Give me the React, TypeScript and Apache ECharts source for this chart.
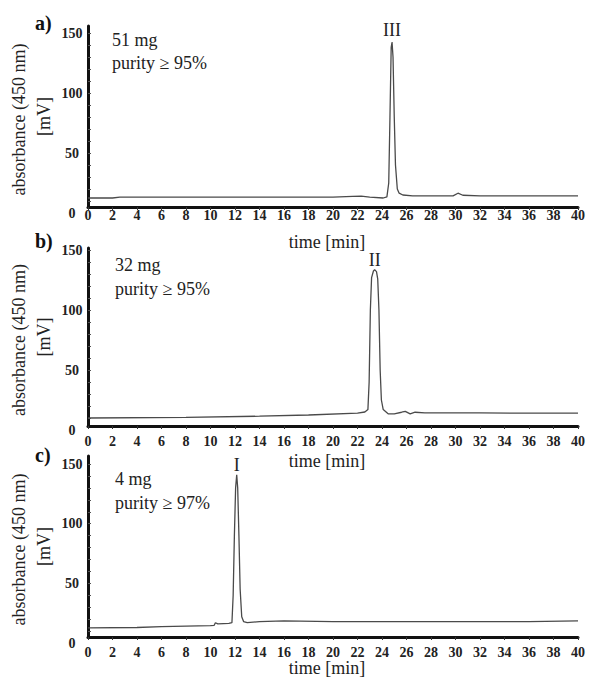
import React, { useEffect, useRef } from "react";
import * as echarts from "echarts";

// ---- data (time in min, absorbance in mV) ----
const timeA = [0, 2, 2.6, 10, 20, 21.6, 22.3, 23, 24.1, 24.4, 24.55, 24.65, 24.75, 24.82, 24.9, 25.0, 25.1, 25.25, 25.4, 25.7, 26.5, 29.8, 30.2, 30.6, 32, 40];
const absA = [12.5, 12.5, 13.3, 13.3, 13.3, 13.8, 14.0, 13.3, 12.5, 13.5, 25, 80, 138, 142.5, 130, 80, 40, 20, 16.5, 15, 14.3, 14.3, 16.5, 14.8, 14.2, 14.2];

const timeB = [0, 8, 14, 18, 22, 22.6, 22.85, 22.95, 23.05, 23.15, 23.3, 23.4, 23.55, 23.65, 23.75, 23.85, 23.95, 24.1, 24.5, 25.0, 25.6, 25.9, 26.3, 26.7, 27.5, 32, 40];
const absB = [10, 10.5, 11.5, 12.5, 14, 15, 17, 40, 100, 127, 132.5, 133.5, 132, 126, 100, 50, 25, 17, 13.5, 13.5, 14.8, 15.5, 13.5, 14.8, 14.2, 14.2, 14];

const timeC = [0, 4, 6, 10, 10.3, 10.4, 10.6, 11.5, 11.75, 11.85, 11.95, 12.05, 12.14, 12.22, 12.32, 12.42, 12.55, 12.7, 13, 14, 16, 20, 36, 40];
const absC = [12.6, 13, 13.7, 14.5, 14.8, 17, 16, 16.5, 17, 40, 90, 130, 141, 130, 90, 45, 22, 18, 17, 17.9, 18.5, 18, 17.9, 18.5];

const panelTimes = [timeA, timeB, timeC];
const panelValues = [absA, absB, absC];
const panelLetters = ["a)", "b)", "c)"];
const amounts = ["51 mg", "32 mg", "4 mg"];
const purities = ["purity \u2265 95%", "purity \u2265 95%", "purity \u2265 97%"];
const peakNames = ["III", "II", "I"];
const yLabelValues = [0, 50, 100, 150];
const yTickValues = [10, 20, 30, 40, 50, 60, 70, 80, 90, 100, 110, 120, 130, 140, 150];

// ---- layout (pixels) ----
const layout = [
  { y0: 213, top: 26, axisY: 207, scale: 1.2, xLabelMargin: 1, letterY: 23, amountY: 40, purityY: 63, textX: 112, timeY: 242, peakDist: 3 },
  { y0: 430, top: 248, axisY: 426, scale: 1.2, xLabelMargin: 8, letterY: 241, amountY: 265, purityY: 289, textX: 115, timeY: 461, peakDist: 0 },
  { y0: 643, top: 456, axisY: 637, scale: 1.193, xLabelMargin: 8, letterY: 455, amountY: 479, purityY: 503, textX: 115, timeY: 668, peakDist: 0 },
];

const FONT = '"Liberation Serif", "Times New Roman", serif';
const TXT = "#222";

export default function App() {
  const ref = useRef<HTMLDivElement>(null);
  useEffect(() => {
    if (!ref.current) return;
    const chart = echarts.init(ref.current, null, { renderer: "svg" });
    const grids: any[] = [];
    const xAxes: any[] = [];
    const yAxes: any[] = [];
    const series: any[] = [];
    const graphics: any[] = [];

    // data grids 0..2
    layout.forEach((L, i) => {
      grids.push({ left: 88, width: 490, top: L.top, height: L.y0 - L.top, containLabel: false, outerBoundsMode: "none" });
      xAxes.push({ gridIndex: i, type: "value", min: 0, max: 40, show: false });
      yAxes.push({
        gridIndex: i,
        type: "value",
        min: 0,
        max: (L.y0 - L.top) / L.scale,
        interval: 50,
        axisLine: { show: false },
        axisTick: { show: true, inside: true, length: 3, customValues: yTickValues, lineStyle: { color: "#555", width: 1 } },
        axisLabel: { customValues: yLabelValues, align: "center", margin: 16, fontFamily: FONT, fontSize: 14, fontWeight: "bold", color: TXT },
        splitLine: { show: false },
      });
    });
    // frame grids 3..5
    layout.forEach((L, i) => {
      grids.push({ left: 88, width: 490, top: L.top, height: L.axisY - L.top, containLabel: false, outerBoundsMode: "none" });
      xAxes.push({
        gridIndex: 3 + i,
        type: "value",
        min: 0,
        max: 40,
        interval: 2,
        axisLine: { show: true, lineStyle: { color: "#111", width: 3 } },
        axisTick: { show: true, length: 3, lineStyle: { color: "#333", width: 1 } },
        axisLabel: { margin: L.xLabelMargin, fontFamily: FONT, fontSize: 14, fontWeight: "bold", color: TXT },
        splitLine: { show: false },
      });
      yAxes.push({
        gridIndex: 3 + i,
        type: "value",
        min: 0,
        max: 1,
        axisLine: { show: true, lineStyle: { color: "#111", width: 3 } },
        axisTick: { show: false },
        axisLabel: { show: false },
        splitLine: { show: false },
      });
    });

    panelTimes.forEach((times, i) => {
      const vals = panelValues[i];
      const data = times.map((t, k) => [t, vals[k]]);
      const pk = vals.indexOf(Math.max(...vals));
      series.push({
        type: "line",
        xAxisIndex: i,
        yAxisIndex: i,
        data,
        symbol: "none",
        showSymbol: false,
        lineStyle: { color: "#4a4a4a", width: 1.3 },
        silent: true,
        markPoint: {
          symbol: "circle",
          symbolSize: 1,
          itemStyle: { color: "rgba(0,0,0,0)" },
          silent: true,
          label: {
            show: true,
            position: "top",
            distance: layout[i].peakDist,
            formatter: peakNames[i],
            fontFamily: FONT,
            fontSize: 18,
            color: TXT,
          },
          data: [{ coord: [times[pk], vals[pk]] }],
        },
      });

      const L = layout[i];
      const cy = (L.top + L.axisY) / 2;
      graphics.push(
        { type: "text", x: 35, y: L.letterY, style: { text: panelLetters[i], fontFamily: FONT, fontSize: 20, fontWeight: "bold", fill: "#111", align: "left", verticalAlign: "middle" } },
        { type: "text", x: L.textX, y: L.amountY, style: { text: amounts[i], fontFamily: FONT, fontSize: 18, fill: TXT, align: "left", verticalAlign: "middle" } },
        { type: "text", x: L.textX, y: L.purityY, style: { text: purities[i], fontFamily: FONT, fontSize: 18, fill: TXT, align: "left", verticalAlign: "middle" } },
        { type: "text", x: 19, y: cy + 3, rotation: Math.PI / 2, style: { text: "absorbance (450 nm)", fontFamily: FONT, fontSize: 18, fill: TXT, align: "center", verticalAlign: "middle" } },
        { type: "text", x: 44, y: cy, rotation: Math.PI / 2, style: { text: "[mV]", fontFamily: FONT, fontSize: 18, fill: TXT, align: "center", verticalAlign: "middle" } },
        { type: "text", x: 327, y: L.timeY, style: { text: "time [min]", fontFamily: FONT, fontSize: 18, fill: TXT, align: "center", verticalAlign: "middle" } }
      );
    });

    chart.setOption({
      animation: false,
      backgroundColor: "#fff",
      grid: grids,
      xAxis: xAxes,
      yAxis: yAxes,
      series,
      graphic: graphics,
    });
    return () => chart.dispose();
  }, []);
  return <div ref={ref} style={{ position: "absolute", left: 0, top: 0, width: 590, height: 677 }} />;
}
